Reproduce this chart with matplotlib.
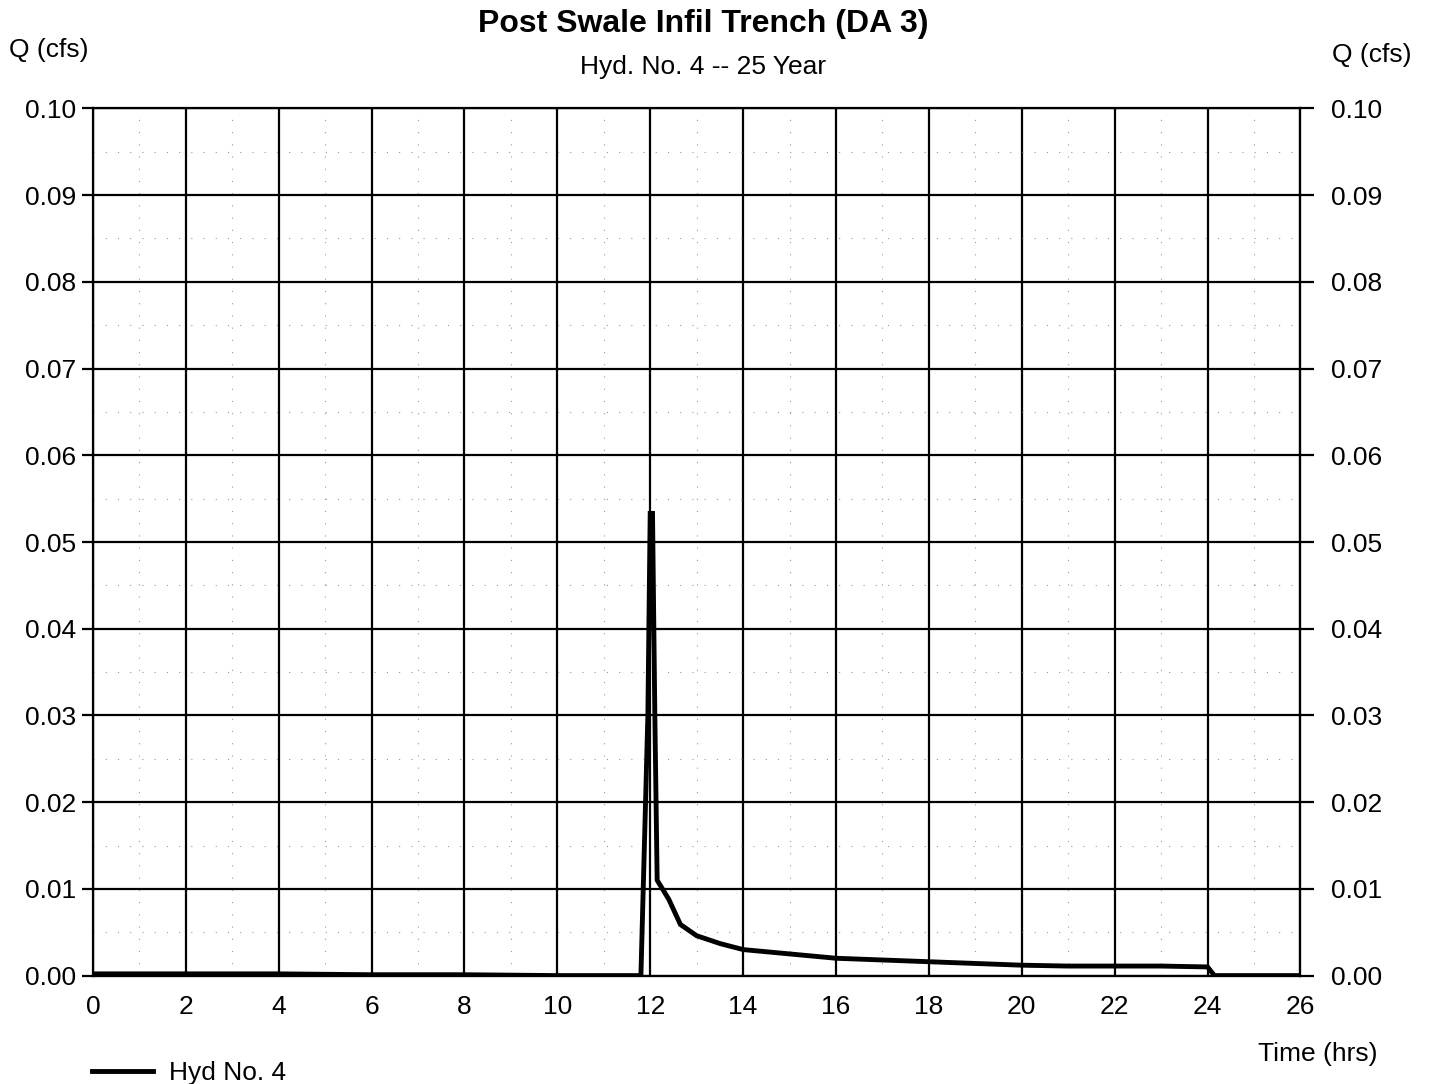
import matplotlib
matplotlib.use("Agg")
import matplotlib.pyplot as plt
import numpy as np

plt.rcParams['font.family'] = ['Liberation Sans', 'DejaVu Sans']

# Hydrograph values
time_hrs = [0.0, 2.0, 4.0, 6.0, 8.0, 10.0, 11.5, 11.8, 11.95, 12.0, 12.05, 12.1, 12.15,
            12.4, 12.65, 13.0, 13.5, 14.0, 15.0, 16.0, 17.0, 18.0, 19.0, 20.0,
            21.0, 22.0, 23.0, 24.0, 24.15, 25.0, 26.0]
flow_cfs = [0.0002, 0.0002, 0.0002, 0.0001, 0.0001, 0.0, 0.0, 0.0, 0.030, 0.0533, 0.0533, 0.030, 0.011,
            0.0088, 0.0059, 0.0046, 0.0037, 0.0030, 0.0025, 0.0020, 0.0018, 0.0016, 0.0014, 0.0012,
            0.0011, 0.0011, 0.0011, 0.0010, 0.0, 0.0, 0.0]

x_ticks = np.arange(0, 27, 2)
y_ticks = np.arange(0, 0.101, 0.01)

fig = plt.figure(figsize=(14.29, 10.84), dpi=100)
ax = fig.add_axes([0.065, 0.1, 0.845, 0.8])

ax.plot(time_hrs, flow_cfs, color='black', linewidth=3.5, label='Hyd No. 4',
        solid_joinstyle='miter')

ax.set_xlim(0, 26)
ax.set_ylim(0, 0.10)
ax.set_xticks(x_ticks)
ax.set_yticks(y_ticks)
ax.set_yticklabels(['%.2f' % v for v in y_ticks])
ax.set_xticks(np.arange(1, 26, 2), minor=True)
ax.set_yticks(np.arange(0.005, 0.1, 0.01), minor=True)

ax.grid(True, which='major', color='black', linewidth=1.6)
ax.grid(True, which='minor', color='#999999', linewidth=0.8, linestyle=(0, (1, 10)))
ax.tick_params(axis='y', which='major', length=8, width=1.6, labelsize=19, pad=4)
ax.tick_params(axis='x', which='major', length=0, labelsize=19, pad=14)
ax.tick_params(which='minor', length=0)
for s in ax.spines.values():
    s.set_linewidth(1.6)

ax2 = ax.twinx()
ax2.set_ylim(0, 0.10)
ax2.set_yticks(y_ticks)
ax2.set_yticklabels(['%.2f' % v for v in y_ticks])
ax2.tick_params(axis='y', length=10, width=1.6, labelsize=19, pad=12)

fig.text(0.492, 0.978, 'Post Swale Infil Trench (DA 3)', ha='center', va='center',
         fontsize=23, fontweight='bold')
fig.text(0.492, 0.938, 'Hyd. No. 4 -- 25 Year', ha='center', va='center', fontsize=19)
fig.text(0.034, 0.954, 'Q (cfs)', ha='center', va='center', fontsize=19)
fig.text(0.96, 0.949, 'Q (cfs)', ha='center', va='center', fontsize=19)
fig.text(0.922, 0.028, 'Time (hrs)', ha='center', va='center', fontsize=19)

fig.legend(loc='lower left', bbox_to_anchor=(0.048, -0.023), frameon=False,
           fontsize=19, handlelength=2.3, handletextpad=0.6)

fig.savefig('out.png', dpi=100)
